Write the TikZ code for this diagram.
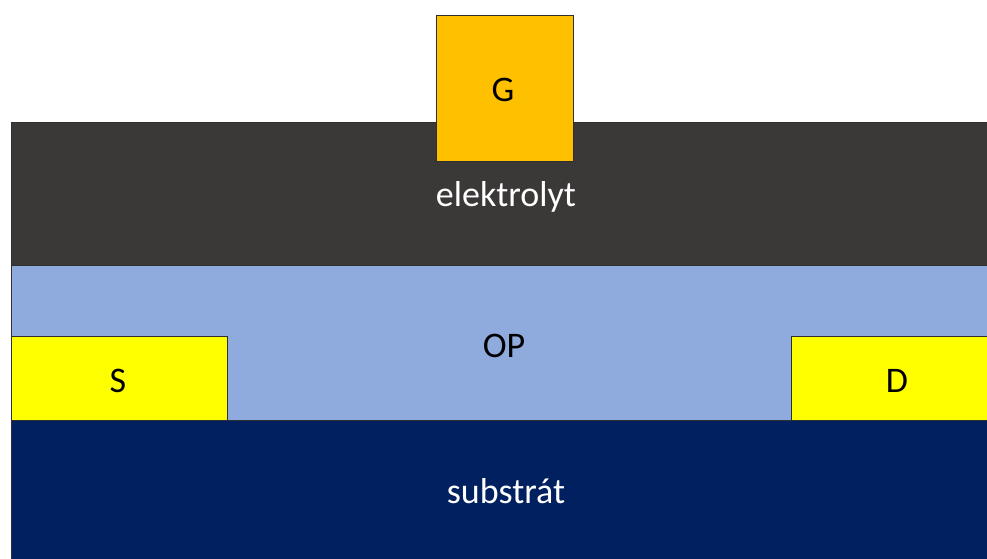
\documentclass[tikz,border=0pt]{standalone}
\usepackage{fontspec}
\setmainfont{Carlito}
\definecolor{elcol}{HTML}{3B3838}
\definecolor{opcol}{HTML}{8FAADC}
\definecolor{sdcol}{HTML}{FFFF00}
\definecolor{gcol}{HTML}{FFC000}
\definecolor{subcol}{HTML}{002060}
\definecolor{edgecol}{HTML}{2F2F2F}
\begin{document}
\begin{tikzpicture}[x=1pt,y=-1pt,
  layer/.style={draw=edgecol,line width=0.8pt},
  lbl/.style={font=\fontsize{36}{43}\selectfont,inner sep=0pt,anchor=base}]
\useasboundingbox[fill=white] (0,0) rectangle (987,558);
\fill[opcol,layer] (11,265) rectangle (990,420);
\node[lbl] (op) at (504,357) {OP};
\draw[fill=sdcol,layer] (11,336) rectangle (227,420);
\node[lbl] (s) at (118,392) {S};
\draw[fill=sdcol,layer] (791,336) rectangle (990,420);
\node[lbl] (d) at (897,392) {D};
\draw[fill=subcol,layer] (11,420) rectangle (990,560);
\node[lbl,text=white] (sub) at (506,503) {substrát};
\draw[fill=elcol,layer] (11,122) rectangle (990,265);
\node[lbl,text=white] (el) at (506,206) {elektrolyt};
\draw[fill=gcol,layer] (436,15) rectangle (573,161);
\node[lbl] (g) at (503,101) {G};
\end{tikzpicture}
\end{document}
